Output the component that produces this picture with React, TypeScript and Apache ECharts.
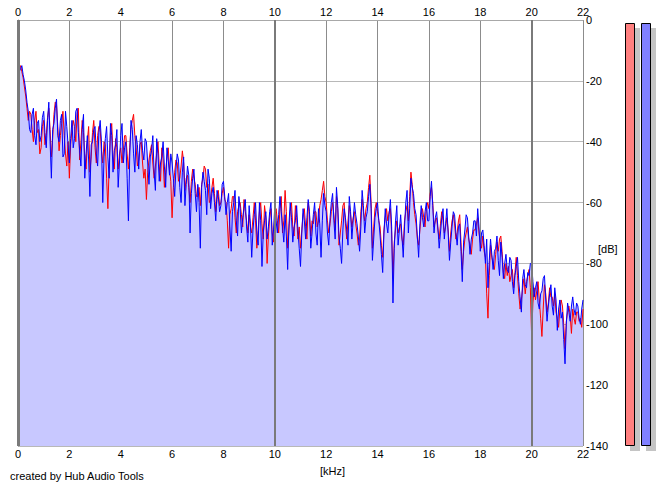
import React, { useEffect, useRef } from "react";
import * as echarts from "echarts";

// frequency sampling: one value every 0.05 kHz, 0 .. 22 kHz
const FREQ_STEP_KHZ = 0.05;

const xTicks = ["0", "2", "4", "6", "8", "10", "12", "14", "16", "18", "20", "22"];
const yTicks = ["0", "-20", "-40", "-60", "-80", "-100", "-120", "-140"];

// right channel (blue), dB
const blueDb = [
  -35, -17, -16, -15, -18, -20, -23, -27, -30, -36,
  -37, -31, -29, -38, -41, -34, -33, -40, -38, -32,
  -30, -37, -42, -33, -27, -40, -52, -36, -34, -29,
  -26, -38, -40, -33, -31, -45, -44, -30, -35, -41,
  -47, -39, -33, -42, -39, -30, -29, -37, -43, -48,
  -36, -31, -52, -44, -38, -46, -58, -41, -40, -36,
  -35, -44, -48, -37, -33, -40, -60, -45, -39, -35,
  -45, -52, -34, -38, -50, -43, -41, -36, -55, -47,
  -38, -34, -47, -42, -40, -52, -66, -45, -33, -36,
  -44, -50, -38, -41, -49, -40, -36, -43, -46, -39,
  -40, -47, -54, -45, -43, -38, -50, -56, -39, -44,
  -53, -47, -45, -40, -48, -55, -42, -46, -51, -44,
  -47, -52, -58, -49, -44, -46, -55, -60, -50, -45,
  -61, -54, -48, -51, -70, -57, -52, -49, -57, -63,
  -54, -60, -75, -55, -50, -53, -56, -64, -49, -52,
  -62, -57, -55, -60, -66, -56, -58, -63, -61, -54,
  -53, -58, -64, -60, -57, -68, -76, -63, -60, -56,
  -66, -71, -58, -62, -70, -65, -62, -59, -68, -73,
  -61, -67, -78, -69, -64, -60, -70, -74, -60, -66,
  -81, -70, -66, -63, -72, -68, -63, -60, -74, -69,
  -61, -66, -70, -64, -58, -63, -68, -73, -64, -71,
  -82, -67, -60, -65, -73, -68, -66, -61, -69, -75,
  -81, -70, -62, -66, -72, -65, -59, -63, -75, -70,
  -64, -60, -70, -74, -62, -67, -78, -66, -57, -61,
  -63, -70, -74, -65, -60, -57, -66, -72, -55, -61,
  -71, -75, -80, -69, -62, -65, -69, -74, -58, -63,
  -72, -66, -60, -64, -67, -71, -76, -68, -56, -61,
  -70, -65, -63, -58, -54, -62, -79, -72, -65, -62,
  -60, -66, -71, -77, -83, -70, -62, -67, -70, -64,
  -59, -68, -93, -75, -66, -61, -74, -69, -64, -71,
  -78, -68, -60, -56, -70, -62, -52, -55, -57, -62,
  -64, -71, -78, -67, -61, -65, -68, -63, -60, -66,
  -66, -58, -53, -61, -70, -65, -63, -68, -75, -70,
  -65, -62, -72, -67, -62, -70, -79, -73, -68, -63,
  -64, -70, -74, -68, -67, -76, -86, -73, -69, -64,
  -65, -71, -77, -72, -70, -66, -66, -71, -62, -68,
  -76, -70, -69, -74, -80, -72, -88, -79, -72, -77,
  -82, -76, -75, -71, -79, -84, -73, -78, -85, -80,
  -77, -82, -83, -78, -79, -86, -90, -84, -81, -78,
  -86, -91, -96, -85, -82, -87, -88, -83, -84, -80,
  -80, -86, -91, -88, -86, -93, -95, -90, -89, -85,
  -84, -92, -99, -94, -90, -87, -94, -97, -88, -92,
  -102, -95, -92, -98, -96, -105, -113, -100, -93, -96,
  -99, -94, -91, -95, -97, -93, -94, -98, -100, -95,
  -92,
];

// left channel (red), dB
const redDb = [
  -34, -16, -15, -17, -19, -22, -25, -29, -33, -30,
  -31, -36, -40, -33, -30, -37, -36, -44, -42, -35,
  -33, -41, -38, -32, -29, -36, -45, -39, -31, -27,
  -28, -35, -43, -38, -34, -30, -38, -44, -48, -40,
  -52, -41, -36, -33, -35, -40, -31, -29, -46, -40,
  -33, -37, -45, -49, -40, -35, -50, -45, -37, -33,
  -42, -47, -38, -35, -36, -43, -47, -40, -41, -52,
  -62, -48, -37, -34, -45, -49, -39, -42, -49, -44,
  -42, -47, -43, -38, -38, -44, -49, -42, -35, -33,
  -31, -38, -42, -48, -46, -41, -40, -47, -52, -49,
  -59, -50, -46, -43, -41, -47, -52, -48, -44, -40,
  -48, -53, -42, -46, -55, -50, -45, -42, -49, -53,
  -65, -55, -50, -46, -47, -53, -52, -48, -43, -47,
  -56, -52, -51, -55, -60, -53, -49, -52, -54, -58,
  -58, -55, -61, -54, -52, -48, -49, -55, -54, -60,
  -59, -55, -52, -57, -63, -59, -56, -61, -60, -57,
  -55, -59, -60, -66, -75, -64, -62, -58, -58, -65,
  -70, -63, -61, -60, -64, -68, -59, -63, -66, -70,
  -64, -68, -70, -65, -60, -66, -75, -69, -63, -60,
  -67, -72, -61, -65, -80, -71, -65, -62, -70, -73,
  -64, -62, -66, -70, -62, -58, -70, -66, -56, -63,
  -75, -69, -63, -60, -68, -71, -61, -65, -72, -68,
  -75, -69, -64, -62, -68, -72, -60, -64, -71, -66,
  -67, -63, -63, -68, -66, -61, -59, -56, -53, -58,
  -60, -66, -70, -67, -63, -60, -64, -69, -58, -62,
  -74, -70, -66, -61, -60, -67, -72, -66, -61, -64,
  -68, -65, -63, -67, -70, -74, -72, -63, -59, -63,
  -66, -62, -60, -55, -51, -60, -75, -68, -62, -60,
  -63, -66, -68, -74, -78, -69, -65, -62, -66, -63,
  -62, -70, -85, -73, -69, -66, -70, -68, -67, -72,
  -74, -66, -63, -61, -66, -58, -50, -54, -60, -64,
  -67, -72, -74, -69, -64, -62, -65, -68, -62, -60,
  -62, -57, -55, -60, -68, -66, -65, -69, -72, -67,
  -63, -66, -70, -68, -65, -69, -76, -70, -66, -64,
  -67, -72, -70, -66, -64, -73, -82, -76, -72, -70,
  -68, -72, -74, -77, -72, -69, -69, -67, -65, -70,
  -73, -75, -71, -76, -78, -90, -98, -84, -74, -78,
  -80, -82, -77, -73, -76, -72, -71, -76, -83, -85,
  -80, -84, -81, -86, -84, -82, -88, -83, -78, -84,
  -90, -95, -92, -88, -85, -90, -86, -84, -82, -88,
  -104, -93, -88, -92, -89, -86, -92, -98, -104, -95,
  -87, -90, -96, -93, -88, -91, -91, -94, -90, -96,
  -98, -101, -95, -92, -94, -100, -108, -99, -96, -94,
  -97, -103, -95, -98, -100, -96, -96, -99, -98, -101,
  -95,
];

const FONT = "Arial, 'Liberation Sans', sans-serif";

export default function App() {
  const ref = useRef<HTMLDivElement>(null);

  useEffect(() => {
    if (!ref.current) return;
    const chart = echarts.init(ref.current, null, { renderer: "svg" });

    const pts = (arr: number[]) =>
      arr.map((v, i) => [Number((i * FREQ_STEP_KHZ).toFixed(3)), v]);
    const envelope = blueDb.map((v, i) => Math.max(v, redDb[i]));

    const left = 18;
    const top = 20;
    const right = 583;
    const bottom = 446;

    const option: any = {
      animation: false,
      backgroundColor: "#ffffff",
      grid: {
        left,
        top,
        width: right - left,
        height: bottom - top,
        containLabel: false,
      },
      xAxis: [
        {
          type: "value",
          position: "bottom",
          min: 0,
          max: 22,
          interval: 2,
          axisLine: { show: false },
          axisTick: { show: false },
          axisLabel: {
            color: "#000",
            fontSize: 11,
            fontFamily: FONT,
            margin: 2,
            formatter: (v: number) => xTicks[Math.round(v / 2)] ?? "",
          },
          splitLine: { show: true, lineStyle: { color: "#8c8c8c", width: 1 } },
        },
        {
          type: "value",
          position: "top",
          min: 0,
          max: 22,
          interval: 2,
          axisLine: { show: true, lineStyle: { color: "#a8a8a8", width: 1 } },
          axisTick: { show: false },
          axisLabel: {
            color: "#000",
            fontSize: 11,
            fontFamily: FONT,
            margin: 3,
            formatter: (v: number) => xTicks[Math.round(v / 2)] ?? "",
          },
          splitLine: { show: false },
        },
      ],
      yAxis: {
        type: "value",
        position: "right",
        min: -140,
        max: 0,
        interval: 20,
        axisLine: { show: true, lineStyle: { color: "#9a9a9a", width: 1 } },
        axisTick: { show: false },
        axisLabel: {
          color: "#000",
          fontSize: 11,
          fontFamily: FONT,
          margin: 3,
          formatter: (v: number) => yTicks[Math.round(-v / 20)] ?? "",
        },
        splitLine: { show: true, lineStyle: { color: "#b8b8b8", width: 1 } },
      },
      series: [
        {
          type: "line",
          data: pts(envelope),
          symbol: "none",
          silent: true,
          lineStyle: { width: 0, opacity: 0 },
          areaStyle: { color: "#c8c8ff", opacity: 1, origin: "start" },
          z: 1,
          markLine: {
            silent: true,
            symbol: "none",
            label: { show: false },
            lineStyle: { color: "#7a7a7a", width: 2, type: "solid" },
            data: [{ xAxis: 10 }, { xAxis: 20 }],
          },
        },
        {
          type: "line",
          data: pts(redDb),
          symbol: "none",
          lineStyle: { color: "#ff0000", width: 1 },
          z: 3,
        },
        {
          type: "line",
          data: pts(blueDb),
          symbol: "none",
          lineStyle: { color: "#0000ff", width: 1 },
          z: 4,
          markLine: {
            silent: true,
            symbol: "none",
            label: { show: false },
            lineStyle: { color: "#7a7a7a", width: 3, type: "solid" },
            data: [{ xAxis: 0 }],
          },
        },
      ],
      graphic: [
        {
          type: "text",
          left: 598,
          top: 243,
          style: { text: "[dB]", fill: "#000", font: `11px ${FONT}` },
        },
        {
          type: "text",
          left: 320,
          top: 465,
          style: { text: "[kHz]", fill: "#000", font: `11px ${FONT}` },
        },
        {
          type: "text",
          left: 10,
          top: 470,
          style: {
            text: "created by Hub Audio Tools",
            fill: "#000",
            font: `11px ${FONT}`,
          },
        },
        {
          type: "rect",
          shape: { x: 630, y: 28, width: 10, height: 423 },
          style: { fill: "#c4c4c4" },
          z: 1,
        },
        {
          type: "rect",
          shape: { x: 646, y: 28, width: 10, height: 423 },
          style: { fill: "#c4c4c4" },
          z: 1,
        },
        {
          type: "rect",
          shape: { x: 625.5, y: 23.5, width: 9, height: 422 },
          style: { fill: "#ff8080", stroke: "#000", lineWidth: 1 },
          z: 2,
        },
        {
          type: "rect",
          shape: { x: 641.5, y: 23.5, width: 9, height: 422 },
          style: { fill: "#8080ff", stroke: "#000", lineWidth: 1 },
          z: 2,
        },
      ],
    };

    chart.setOption(option);
    return () => chart.dispose();
  }, []);

  return (
    <div
      ref={ref}
      style={{ position: "fixed", left: 0, top: 0, width: 665, height: 487 }}
    />
  );
}
